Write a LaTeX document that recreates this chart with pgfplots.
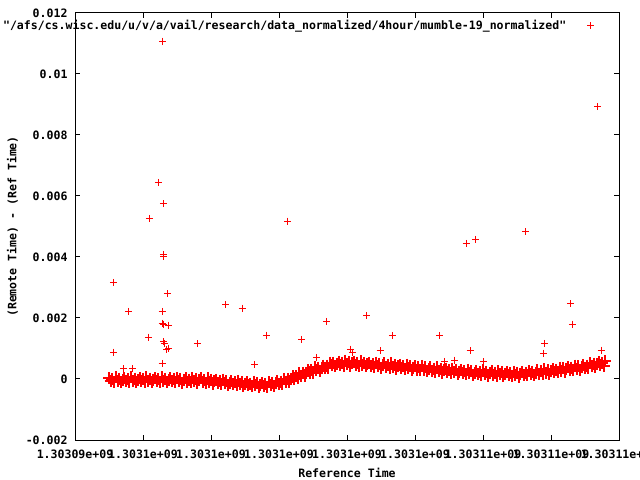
\documentclass[border=0pt]{standalone}
\usepackage{fontspec}
\setmainfont{DejaVu Sans Mono}[Ligatures=TeXOff]
\usepackage{pgfplots}
\usepackage{pgfplotstable}
\pgfplotsset{compat=1.18}
\newcommand{\gfont}{\fontsize{11.55bp}{13bp}\selectfont\bfseries}
% x = Reference Time - 1303094000 s
\pgfplotstableread{
t y
1000 3e-5
1050 -8e-5
1100 -1e-5
1150 -10e-5
1200 5e-5
1250 -6e-5
1300 1e-5
1350 -11e-5
1400 -3e-5
1450 3e-5
1500 -8e-5
1550 -1e-5
1600 -10e-5
1650 5e-5
1700 -6e-5
1750 1e-5
1800 -11e-5
1850 -3e-5
1900 3e-5
1950 -8e-5
2000 -1e-5
2050 -10e-5
2100 5e-5
2150 -6e-5
2200 1e-5
2250 -11e-5
2300 -3e-5
2350 3e-5
2400 -8e-5
2450 -1e-5
2500 -10e-5
2550 5e-5
2600 -6e-5
2650 1e-5
2700 -11e-5
2750 -3e-5
2800 3e-5
2850 -8e-5
2900 -1e-5
2950 -11e-5
3000 4e-5
3050 -7e-5
3100 0
3150 -12e-5
3200 -4e-5
3250 2e-5
3300 -9e-5
3350 -2e-5
3400 -11e-5
3450 4e-5
3500 -7e-5
3550 0
3600 -12e-5
3650 -4e-5
3700 2e-5
3750 -9e-5
3800 -3e-5
3850 -12e-5
3900 2e-5
3950 -9e-5
4000 -3e-5
4050 -15e-5
4100 -8e-5
4150 -2e-5
4200 -14e-5
4250 -7e-5
4300 -17e-5
4350 -2e-5
4400 -14e-5
4450 -7e-5
4500 -20e-5
4550 -12e-5
4600 -7e-5
4650 -18e-5
4700 -11e-5
4750 -21e-5
4800 -6e-5
4850 -17e-5
4900 -11e-5
4950 -23e-5
5000 -15e-5
5050 -10e-5
5100 -21e-5
5150 -15e-5
5200 -24e-5
5250 -9e-5
5300 -21e-5
5350 -14e-5
5400 -26e-5
5450 -19e-5
5500 -13e-5
5550 -24e-5
5600 -18e-5
5650 -27e-5
5700 -11e-5
5750 -21e-5
5800 -13e-5
5850 -24e-5
5900 -14e-5
5950 -7e-5
6000 -17e-5
6050 -9e-5
6100 -17e-5
6150 0
6200 -9e-5
6250 0
6300 -10e-5
6350 0
6400 9e-5
6450 0
6500 9e-5
6550 2e-5
6600 19e-5
6650 10e-5
6700 20e-5
6750 10e-5
6800 20e-5
6850 29e-5
6900 20e-5
6950 29e-5
7000 21e-5
7050 38e-5
7100 28e-5
7150 37e-5
7200 26e-5
7250 36e-5
7300 44e-5
7350 35e-5
7400 44e-5
7450 37e-5
7500 54e-5
7550 45e-5
7600 54e-5
7650 42e-5
7700 50e-5
7750 57e-5
7800 46e-5
7850 53e-5
7900 44e-5
7950 60e-5
8000 49e-5
8050 56e-5
8100 44e-5
8150 52e-5
8200 57e-5
8250 46e-5
8300 53e-5
8350 43e-5
8400 58e-5
8450 46e-5
8500 53e-5
8550 41e-5
8600 48e-5
8650 54e-5
8700 43e-5
8750 49e-5
8800 40e-5
8850 54e-5
8900 43e-5
8950 50e-5
9000 37e-5
9050 45e-5
9100 51e-5
9150 39e-5
9200 46e-5
9250 36e-5
9300 51e-5
9350 39e-5
9400 46e-5
9450 33e-5
9500 41e-5
9550 46e-5
9600 35e-5
9650 42e-5
9700 32e-5
9750 47e-5
9800 35e-5
9850 42e-5
9900 29e-5
9950 37e-5
10000 42e-5
10050 31e-5
10100 38e-5
10150 28e-5
10200 43e-5
10250 31e-5
10300 38e-5
10350 25e-5
10400 33e-5
10450 38e-5
10500 27e-5
10550 33e-5
10600 24e-5
10650 38e-5
10700 27e-5
10750 33e-5
10800 21e-5
10850 28e-5
10900 34e-5
10950 22e-5
11000 29e-5
11050 19e-5
11100 34e-5
11150 22e-5
11200 29e-5
11250 17e-5
11300 24e-5
11350 30e-5
11400 19e-5
11450 25e-5
11500 16e-5
11550 31e-5
11600 19e-5
11650 26e-5
11700 14e-5
11750 21e-5
11800 27e-5
11850 16e-5
11900 22e-5
11950 13e-5
12000 28e-5
12050 17e-5
12100 24e-5
12150 11e-5
12200 19e-5
12250 25e-5
12300 14e-5
12350 21e-5
12400 11e-5
12450 26e-5
12500 15e-5
12550 22e-5
12600 10e-5
12650 17e-5
12700 23e-5
12750 12e-5
12800 19e-5
12850 10e-5
12900 24e-5
12950 13e-5
13000 20e-5
13050 8e-5
13100 17e-5
13150 23e-5
13200 13e-5
13250 20e-5
13300 12e-5
13350 27e-5
13400 17e-5
13450 24e-5
13500 13e-5
13550 21e-5
13600 28e-5
13650 17e-5
13700 25e-5
13750 16e-5
13800 32e-5
13850 21e-5
13900 29e-5
13950 17e-5
14000 26e-5
14050 32e-5
14100 22e-5
14150 30e-5
14200 22e-5
14250 37e-5
14300 27e-5
14350 35e-5
14400 24e-5
14450 32e-5
14500 39e-5
14550 29e-5
14600 37e-5
14650 28e-5
14700 44e-5
14750 34e-5
14800 42e-5
14850 30e-5
14900 39e-5
14950 46e-5
15000 36e-5
15050 44e-5
15100 36e-5
15150 52e-5
15200 42e-5
15250 50e-5
15300 39e-5
15350 48e-5
15400 55e-5
15450 45e-5
15500 52e-5
15550 43e-5
15600 58e-5
}\bandtable
\pgfplotstableread{
t y
2450 0.00645
2597 0.00574
2185 0.00527
6244 0.00518
2597 0.00409
2610 0.00401
1126 0.00317
2715 0.00279
4441 0.00243
4912 0.00232
1568 0.00222
2559 0.00222
2559 0.00183
2597 0.00180
2744 0.00177
2156 0.00137
5626 0.00144
2597 0.00122
2647 0.00117
3597 0.00115
2744 0.00101
2697 0.00097
1126 0.00088
2559 0.00051
5294 0.00048
1421 0.00033
1685 0.00033
6662 0.00130
11500 0.00445
11774 0.00458
13244 0.00482
14568 0.00246
14626 0.00180
8588 0.00207
7391 0.00189
9332 0.00141
10735 0.00141
13803 0.00117
13774 0.00085
15471 0.00095
8971 0.00092
11618 0.00092
8097 0.00098
8156 0.00088
7097 0.00071
10853 0.00058
11156 0.00062
12000 0.00056
2588 0.01108
15382 0.00892
}\outliertable
\begin{document}
\begin{tikzpicture}
\path[use as bounding box] (0,0) rectangle (640bp,480bp);
\begin{axis}[
  at={(75bp,40bp)}, anchor=south west,
  scale only axis, width=544bp, height=427bp,
  xmin=0, xmax=16000, ymin=-0.002, ymax=0.012,
  xtick={0,2000,4000,6000,8000,10000,12000,14000,16000},
  xticklabels={1.30309e+09,1.3031e+09,1.3031e+09,1.3031e+09,1.3031e+09,1.3031e+09,1.30311e+09,1.30311e+09,1.30311e+09},
  ytick={-0.002,0,0.002,0.004,0.006,0.008,0.01,0.012},
  yticklabels={-0.002,0,0.002,0.004,0.006,0.008,0.01,0.012},
  scaled x ticks=false, scaled y ticks=false,
  tick align=inside, major tick length=5bp,
  tick style={black, line width=1bp},
  axis line style={black, line width=1bp},
  tick label style={font=\gfont},
  xticklabel style={yshift=-6bp},
  yticklabel style={xshift=-4bp},
  label style={font=\gfont},
  xlabel={Reference Time},
  ylabel={(Remote Time) - (Ref Time)},
  xlabel style={yshift=-3bp},
  ylabel style={yshift=1bp},
  legend plot pos=right,
  legend cell align=right,
  legend style={draw=none, fill=none, font=\gfont, inner sep=0pt, column sep=19bp,
    at={(rel axis cs:0.955,0.988)}, anchor=north east},
]
\addplot[only marks, mark=+, color=red, mark size=3.5bp, mark options={line width=1bp}]
  table[x=t, y=y] {\outliertable};
\addlegendentry{"/afs/cs.wisc.edu/u/v/a/vail/research/data\_normalized/4hour/mumble-19\_normalized"}
\addplot[only marks, mark=+, color=red, mark size=6bp, mark options={line width=2bp}, forget plot]
  table[x=t, y=y] {\bandtable};
\end{axis}
\end{tikzpicture}
\end{document}
